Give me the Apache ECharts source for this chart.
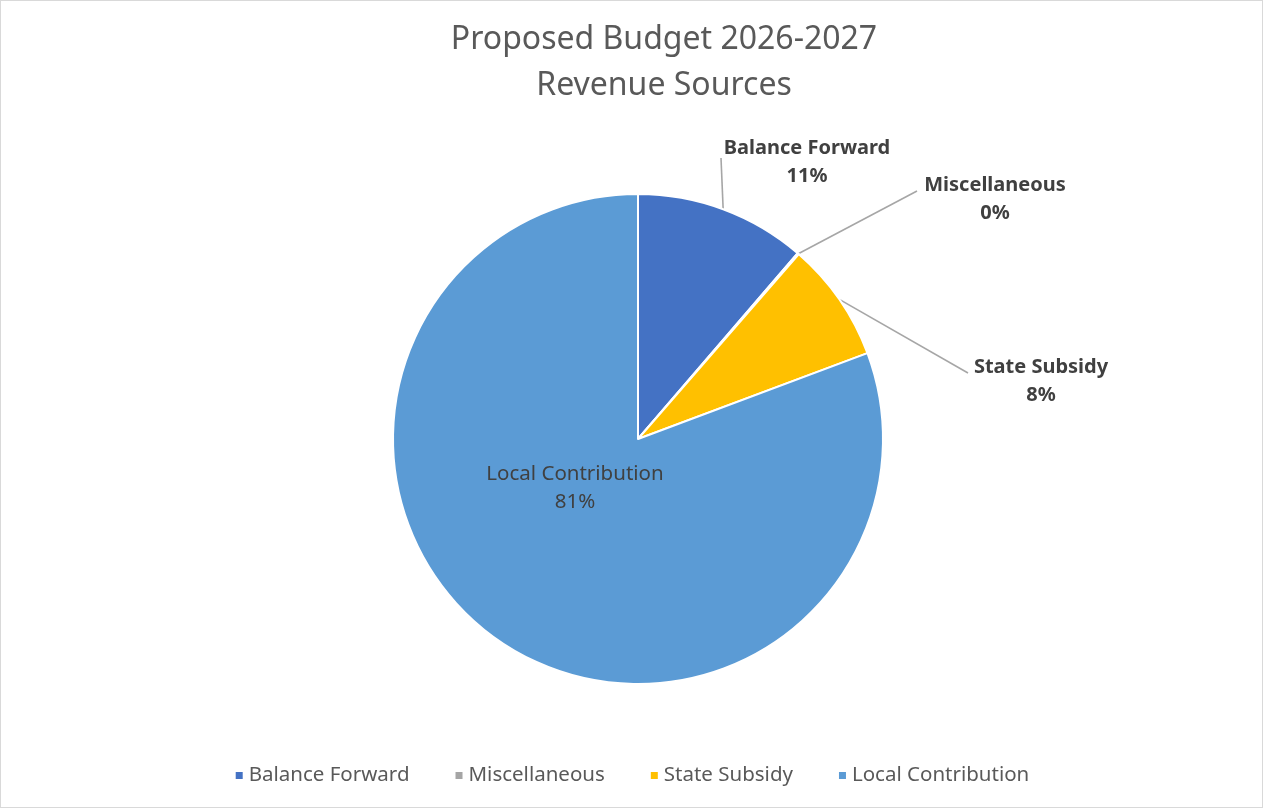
<!DOCTYPE html>
<html><head><meta charset="utf-8">
<script src="https://cdn.jsdelivr.net/npm/echarts@6/dist/echarts.min.js"></script>
<style>html,body{margin:0;padding:0;background:#fff}#c{width:1263px;height:808px;box-sizing:border-box;border:1px solid #d9d9d9}</style>
</head><body><div id="c"></div>
<script>
const categories = ['Balance Forward', 'Miscellaneous', 'State Subsidy', 'Local Contribution'];
const values = [11.3, 0.1, 7.9, 80.7];
const colors = ['#4472C4', '#A5A5A5', '#FFC000', '#5B9BD5'];
const FONT = 'Noto Sans';
const chart = echarts.init(document.getElementById('c'));
const labelSpots = [
  {x: 806, y: 161, end: [720, 157]},
  {x: 994, y: 198, end: [916, 190]},
  {x: 1040, y: 380, end: [967, 372]},
  {x: 574, y: 487}
];
chart.setOption({
  animation: false,
  textStyle: {fontFamily: FONT},
  title: {
    text: 'Proposed Budget 2026-2027\nRevenue Sources',
    left: 658, top: 11, textAlign: 'center',
    textStyle: {fontFamily: FONT, fontSize: 32, fontWeight: 'normal', color: '#595959', lineHeight: 46}
  },
  legend: {
    bottom: 16, left: 'center', itemWidth: 9, itemHeight: 9, itemGap: 44,
    icon: 'rect',
    textStyle: {fontFamily: FONT, fontSize: 20.5, color: '#595959'},
    data: categories
  },
  series: [{
    type: 'pie',
    center: [637, 438], radius: 245,
    startAngle: 90, clockwise: true,
    itemStyle: {borderColor: '#fff', borderWidth: 2},
    label: {
      show: true, position: 'outside',
      formatter: p => p.name + '\n' + Math.round(p.percent) + '%',
      fontFamily: FONT, fontSize: 20, fontWeight: 'bold', color: '#404040', lineHeight: 28, align: 'center'
    },
    labelLine: {show: true, lineStyle: {color: '#A6A6A6', width: 1.6}, length: 10, length2: 10},
    labelLayout: function (p) {
      const s = labelSpots[p.dataIndex];
      if (!s) return {};
      const r = {x: s.x, y: s.y, align: 'center', verticalAlign: 'middle'};
      if (s.end) r.labelLinePoints = [p.labelLinePoints[0], s.end, s.end];
      return r;
    },
    data: categories.map((n, i) => {
      const d = {name: n, value: values[i], itemStyle: {color: colors[i]}};
      if (i === 3) {
        d.label = {position: 'inside', fontWeight: 'normal', fontSize: 20.5};
        d.labelLine = {show: false};
      }
      return d;
    })
  }]
});
</script></body></html>
